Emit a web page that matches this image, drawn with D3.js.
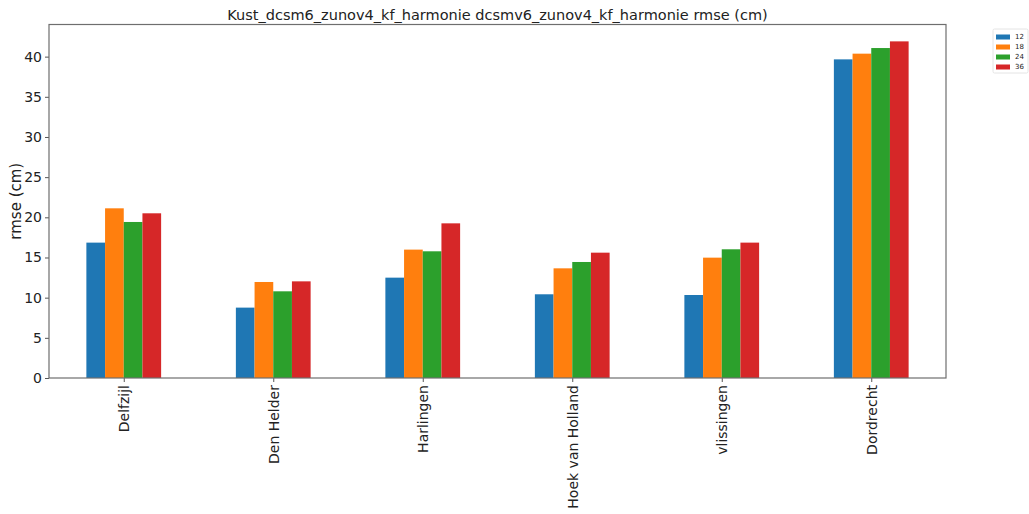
<!DOCTYPE html>
<html>
<head>
<meta charset="utf-8">
<script src="https://cdn.jsdelivr.net/npm/d3@7"></script>
<style>
  html, body { margin: 0; padding: 0; background: #fff; }
  svg { display: block; font-family: "DejaVu Sans", sans-serif; }
</style>
</head>
<body>
<svg id="chart" width="1029" height="514"></svg>
<script>
const categories = ["Delfzijl", "Den Helder", "Harlingen", "Hoek van Holland", "vlissingen", "Dordrecht"];
const seriesNames = ["12", "18", "24", "36"];
const s12 = [16.85, 8.76, 12.49, 10.42, 10.33, 39.66];
const s18 = [21.12, 11.95, 15.98, 13.65, 14.98, 40.37];
const s24 = [19.42, 10.79, 15.77, 14.44, 16.02, 41.07];
const s36 = [20.50, 12.03, 19.25, 15.60, 16.85, 41.90];
const yTicks = [0, 5, 10, 15, 20, 25, 30, 35, 40];
const colors = ["#1f77b4", "#ff7f0e", "#2ca02c", "#d62728"];
const titleText = "Kust_dcsm6_zunov4_kf_harmonie dcsmv6_zunov4_kf_harmonie rmse (cm)";
const yLabelText = "rmse (cm)";

const series = [s12, s18, s24, s36];

const svg = d3.select("#chart");
const L = 49, R = 946, T = 24.5, B = 378;

const x = d3.scaleLinear().domain([-0.5, categories.length - 0.5]).range([L, R]);
const y = d3.scaleLinear().domain([0, 44]).range([B, T]);
const bw = 0.5 / series.length;

// bars
series.forEach((vals, j) => {
  svg.append("g").selectAll("rect").data(vals).join("rect")
    .attr("x", (d, i) => x(i + (j - (series.length - 1) / 2) * bw - bw / 2))
    .attr("width", (d, i) => x(bw) - x(0))
    .attr("y", d => y(d))
    .attr("height", d => y(0) - y(d))
    .attr("fill", colors[j]);
});

// y axis
const yAxis = d3.axisLeft(y).tickValues(yTicks).tickSize(4).tickPadding(3).tickFormat(d3.format("d"));
const gy = svg.append("g").attr("transform", `translate(${L},0)`).call(yAxis);
gy.select(".domain").remove();
gy.selectAll("line").attr("stroke", "#555").attr("stroke-width", 1);
gy.selectAll("text").attr("font-size", 14).attr("fill", "#222").attr("font-family", "DejaVu Sans");

// x axis
const xAxis = d3.axisBottom(x).tickValues(d3.range(categories.length)).tickSize(4).tickFormat(i => categories[i]);
const gx = svg.append("g").attr("transform", `translate(0,${B})`).call(xAxis);
gx.select(".domain").remove();
gx.selectAll("line").attr("stroke", "#555").attr("stroke-width", 1);
gx.selectAll("text")
  .attr("font-size", 14).attr("fill", "#222").attr("font-family", "DejaVu Sans")
  .attr("text-anchor", "end")
  .attr("dy", "0.35em")
  .attr("transform", "rotate(-90)")
  .attr("x", -7).attr("y", 0);

// frame
svg.append("rect").attr("x", L).attr("y", T).attr("width", R - L).attr("height", B - T)
  .attr("fill", "none").attr("stroke", "#6e6e6e").attr("stroke-width", 1.2);

// title
svg.append("text").attr("x", (L + R) / 2).attr("y", 20).attr("text-anchor", "middle")
  .attr("font-size", 14.5).attr("fill", "#222").text(titleText);

// y label
svg.append("text").attr("transform", `translate(21,${(T + B) / 2}) rotate(-90)`)
  .attr("text-anchor", "middle").attr("font-size", 15).attr("fill", "#222").text(yLabelText);

// legend
const lg = svg.append("g").attr("transform", "translate(993,29)");
lg.append("rect").attr("x", 0).attr("y", 0).attr("width", 35).attr("height", 44).attr("rx", 1.5)
  .attr("fill", "#fff").attr("stroke", "#ddd").attr("stroke-width", 0.8);
seriesNames.forEach((n, j) => {
  const ry = 5 + j * 10;
  lg.append("rect").attr("x", 3).attr("y", ry + 0.5).attr("width", 14).attr("height", 5).attr("fill", colors[j]);
  lg.append("text").attr("x", 22).attr("y", ry + 3).attr("dy", "0.35em").attr("font-size", 7).attr("fill", "#222").text(n);
});
</script>
</body>
</html>
